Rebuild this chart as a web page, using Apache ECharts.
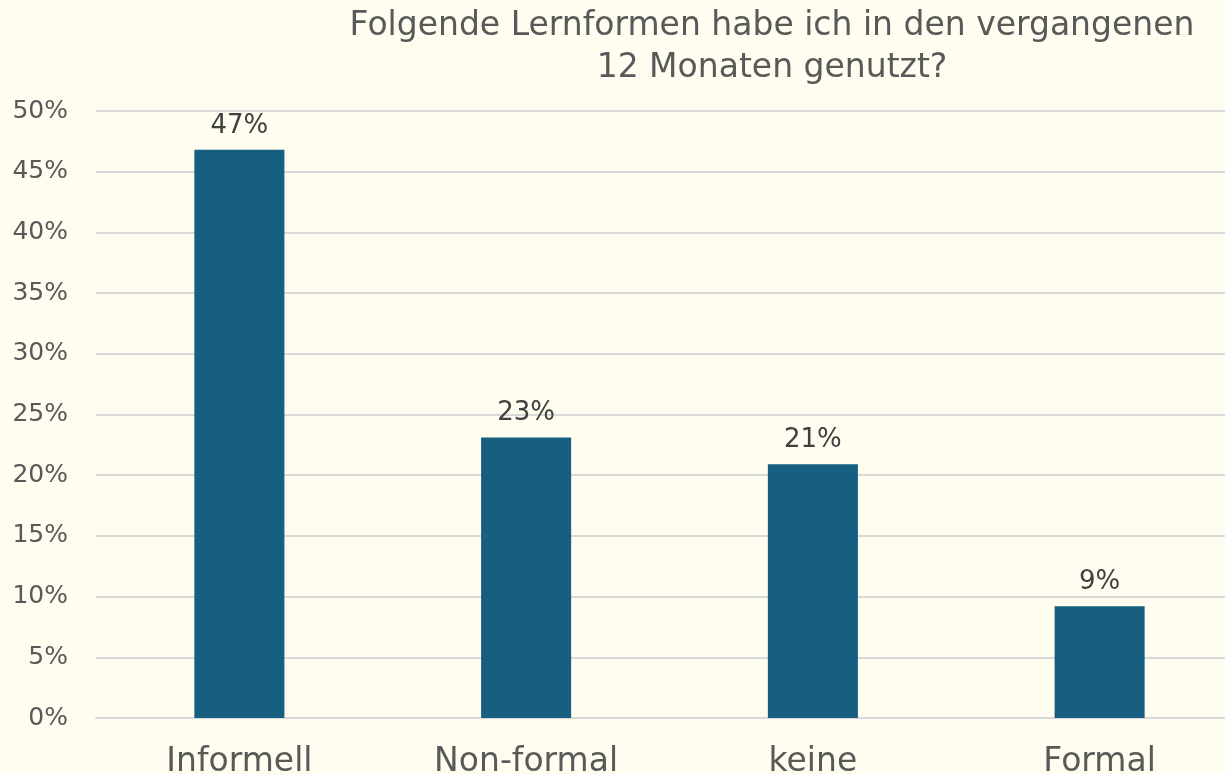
<!DOCTYPE html>
<html>
<head>
<meta charset="utf-8">
<script src="https://cdn.jsdelivr.net/npm/echarts@6/dist/echarts.min.js"></script>
<style>
  html, body { margin: 0; padding: 0; background: #FFFDF0; }
  #chart { width: 1225px; height: 774px; }
</style>
</head>
<body>
<div id="chart"></div>
<script>
var categories = ['Informell', 'Non-formal', 'keine', 'Formal'];
var values = [46.8, 23.1, 20.9, 9.2];
var yTicks = [0, 50, 5];   // min, max, interval

var chartTitle = 'Folgende Lernformen habe ich in den vergangenen\n12 Monaten genutzt?';
var fontName = 'DejaVu Sans';

var myChart = echarts.init(document.getElementById('chart'));
var option = {
  backgroundColor: '#FFFDF0',
  title: {
    text: chartTitle,
    left: 767,
    top: 0,
    textAlign: 'center',
    textStyle: {
      fontFamily: fontName,
      fontSize: 33,
      fontWeight: 'normal',
      color: '#595959',
      lineHeight: 42,
      align: 'center'
    }
  },
  // the plot runs past the right edge, as in the source picture
  grid: {
    left: 96,
    right: -18,
    top: 111,
    bottom: 56,
    containLabel: false,
    outerBoundsMode: 'none'
  },
  xAxis: {
    type: 'category',
    data: categories,
    axisTick: { show: false },
    axisLine: { lineStyle: { color: '#D9D9D9', width: 2 } },
    axisLabel: {
      margin: 28,
      fontFamily: fontName,
      fontSize: 33,
      color: '#595959'
    }
  },
  yAxis: {
    type: 'value',
    min: yTicks[0],
    max: yTicks[1],
    interval: yTicks[2],
    axisLine: { show: false },
    axisTick: { show: false },
    splitLine: { lineStyle: { color: '#D9D9D9', width: 2 } },
    axisLabel: {
      margin: 28,
      fontFamily: fontName,
      fontSize: 25,
      color: '#595959',
      formatter: '{value}%'
    }
  },
  series: [{
    type: 'bar',
    data: values,
    barWidth: '31.4%',
    itemStyle: { color: '#175F80' },
    label: {
      show: true,
      position: 'top',
      distance: 11,
      fontFamily: fontName,
      fontSize: 26,
      color: '#404040',
      formatter: function (p) { return Math.round(p.value) + '%'; }
    }
  }]
};
myChart.setOption(option);
</script>
</body>
</html>
